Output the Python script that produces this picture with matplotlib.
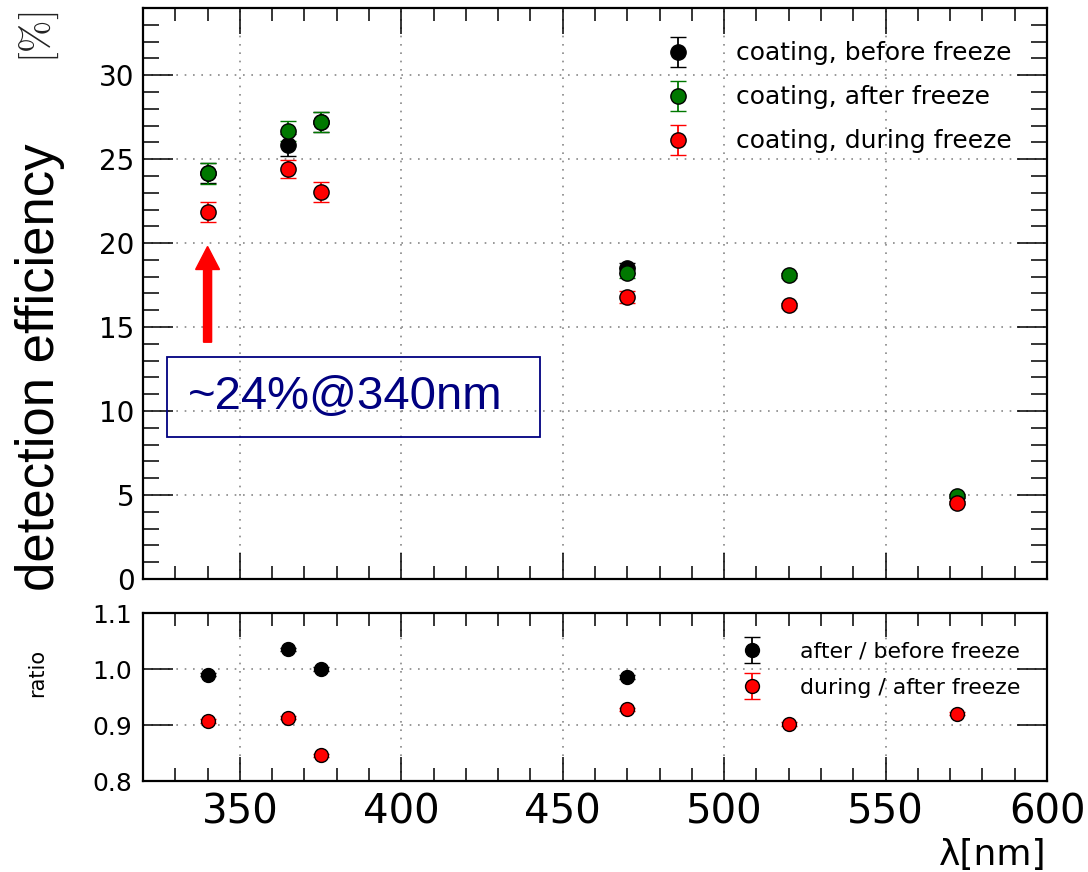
import matplotlib
matplotlib.use("Agg")
import matplotlib.pyplot as plt
from matplotlib.patches import Rectangle
from matplotlib.container import ErrorbarContainer
from matplotlib.legend_handler import HandlerErrorbar

# ---------------- data ----------------
wl_before = [340, 365, 375, 470]
eff_before = [24.2, 25.85, 27.2, 18.5]
err_before = [0.6, 0.65, 0.6, 0.3]

wl_all = [340, 365, 375, 470, 520, 572]
eff_after = [24.15, 26.7, 27.2, 18.2, 18.1, 4.95]
err_after = [0.65, 0.6, 0.6, 0.3, 0.15, 0.1]
eff_during = [21.85, 24.4, 23.05, 16.8, 16.3, 4.55]
err_during = [0.6, 0.55, 0.6, 0.35, 0.15, 0.1]

ratio_after_before = [0.99, 1.035, 1.0, 0.986]
ratio_during_after = [0.907, 0.913, 0.846, 0.928, 0.902, 0.92]
ratio_err = [0.003, 0.003, 0.003, 0.003, 0.003, 0.003]

x_ticks = [350, 400, 450, 500, 550, 600]
y_ticks_top = [0, 5, 10, 15, 20, 25, 30]
y_ticks_ratio = [0.8, 0.9, 1.0, 1.1]

W, H = 1088, 872
fig = plt.figure(figsize=(W / 100, H / 100), dpi=100)
plt.rcParams['font.family'] = ['DejaVu Sans']
plt.rcParams['mathtext.fontset'] = 'cm'

ax1 = fig.add_axes([143 / W, 1 - 579 / H, 904 / W, 571 / H])
ax2 = fig.add_axes([143 / W, 1 - 781 / H, 904 / W, 168 / H])

grid_style = dict(color="#888888", linestyle=(0, (1, 4)), linewidth=1.2)
mk = dict(fmt="o", markersize=11, markeredgecolor="black", markeredgewidth=1.0,
          capsize=5.5, elinewidth=1.3, capthick=1.3, linestyle="none")

# ==========================================
# top panel
# ==========================================
h_before = ax1.errorbar(wl_before, eff_before, yerr=err_before, color="black",
                        ecolor="black", label="coating, before freeze", **mk)
h_after = ax1.errorbar(wl_all, eff_after, yerr=err_after, color="#007800",
                       ecolor="#007800", label="coating, after freeze", **mk)
h_during = ax1.errorbar(wl_all, eff_during, yerr=err_during, color="#ff0000",
                        ecolor="#ff0000", label="coating, during freeze", **mk)

ax1.set_xlim(320, 600)
ax1.set_ylim(0, 34)
ax1.set_xticks(x_ticks)
ax1.set_xticks(range(330, 600, 10), minor=True)
ax1.set_yticks(y_ticks_top)
ax1.set_yticks(range(0, 35), minor=True)
ax1.grid(True, which="major", **grid_style)
ax1.set_axisbelow(True)

ax1.tick_params(axis="y", which="major", direction="in", length=21.6, width=1.1,
                left=True, right=True, labelsize=20, pad=6)
ax1.tick_params(axis="y", which="minor", direction="in", length=11.5, width=1.1,
                left=True, right=True)
ax1.tick_params(axis="x", which="major", direction="in", length=18.7, width=1.1,
                top=True, bottom=True, labelbottom=False)
ax1.tick_params(axis="x", which="minor", direction="in", length=9.4, width=1.1,
                top=True, bottom=True)
for s in ax1.spines.values():
    s.set_linewidth(1.6)

ax1.legend(handles=[h_before, h_after, h_during], loc="upper left",
           bbox_to_anchor=(0.578, 0.9415), frameon=False, fontsize=18,
           borderpad=0, borderaxespad=0, handlelength=1.0,
           handletextpad=1.82, labelspacing=0.8,
           handler_map={ErrorbarContainer: HandlerErrorbar(yerr_size=0.6)})

# arrow + box
ax1.arrow(340, 14.1, 0, 5.7, width=2.5, head_width=7.4, head_length=1.37,
          length_includes_head=True, color="#ff0000", zorder=5)
ax1.add_patch(Rectangle((327.4, 8.45), 115.6, 4.76, fill=False,
                        edgecolor="#000080", linewidth=1.3, zorder=5))
ax1.text(333.9, 10.83, "~24%@340nm", color="#000080", fontsize=34,
         family="Liberation Sans", ha="left", va="center", zorder=6)

# ==========================================
# ratio panel
# ==========================================
r1 = ax2.errorbar(wl_before, ratio_after_before, yerr=ratio_err[:4], color="black",
                  ecolor="black", label="after / before freeze",
                  **{**mk, "markersize": 10})
r2 = ax2.errorbar(wl_all, ratio_during_after, yerr=ratio_err, color="#ff0000",
                  ecolor="#ff0000", label="during / after freeze",
                  **{**mk, "markersize": 10})

ax2.set_xlim(320, 600)
ax2.set_ylim(0.8, 1.1)
ax2.set_xticks(x_ticks)
ax2.set_xticks(range(330, 600, 10), minor=True)
ax2.set_yticks(y_ticks_ratio)
ax2.set_yticklabels(["0.8", "0.9", "1.0", "1.1"])
ax2.grid(True, which="major", **grid_style)
ax2.set_axisbelow(True)

ax2.tick_params(axis="y", which="major", direction="in", length=21.6, width=1.1,
                left=True, right=True, labelsize=18, pad=8)
ax2.tick_params(axis="x", which="major", direction="in", length=17, width=1.1,
                top=True, bottom=True, labelsize=29, pad=8)
ax2.tick_params(axis="x", which="minor", direction="in", length=9.4, width=1.1,
                top=True, bottom=True)
for s in ax2.spines.values():
    s.set_linewidth(1.6)

ax2.legend(handles=[r1, r2], loc="upper left", bbox_to_anchor=(0.6615, 0.83),
           frameon=False, fontsize=15.8, borderpad=0, borderaxespad=0,
           handlelength=1.0, handletextpad=1.7, labelspacing=0.73,
           handler_map={ErrorbarContainer: HandlerErrorbar(yerr_size=0.6)})

# ==========================================
# labels
# ==========================================
fig.text(40 / W, 1 - 367 / H, "detection efficiency", rotation=90, fontsize=38,
         family="Liberation Sans", ha="center", va="center")
fig.text(39 / W, 1 - 37 / H, r"$[\%]$", rotation=90, fontsize=28,
         ha="center", va="center", color="#222222")
fig.text(37 / W, 1 - 673 / H, "ratio", rotation=90, fontsize=15,
         ha="center", va="center")
fig.text(1047 / W, 1 - 855 / H, "λ[nm]", fontsize=26, ha="right", va="center")

fig.savefig("out.png", dpi=100)
